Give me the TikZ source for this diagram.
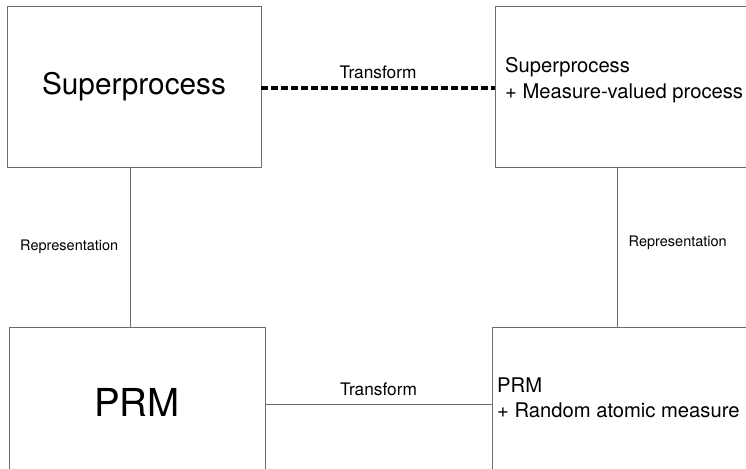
\documentclass[tikz,border=0pt]{standalone}
\usepackage{fontspec}
\setmainfont{TeX Gyre Heros}
\begin{document}
\begin{tikzpicture}[x=1pt,y=-1pt,
		box/.style={draw=gray!85!black,line width=0.8pt,inner sep=0pt,minimum height=161pt},
		link/.style={draw=gray!85!black,line width=0.8pt},
		twist/.style={draw=black,line width=3.4pt,dash pattern=on 7pt off 3pt}]
		\useasboundingbox (0,0) rectangle (746,468);
		\clip (0,0) rectangle (746,468);
		% boxes
		\node[box,minimum width=254pt] (sup) at (134,86.5) {\fontsize{29.8}{34}\selectfont Superprocess};
		\node[box,minimum width=270pt] (supmv) at (630,86.5) {};
		\node[box,minimum width=256pt,minimum height=150pt] (prm) at (137,402) {\fontsize{38.5}{44}\selectfont PRM};
		\node[box,minimum width=270pt,minimum height=150pt] (prmra) at (627,402) {};
		\node[anchor=west,align=left,inner sep=0pt,font=\fontsize{20.2}{26}\selectfont] (supmvtxt) at (505,80) {Superprocess\\+ Measure-valued process};
		\node[anchor=west,align=left,inner sep=0pt,font=\fontsize{20.2}{25}\selectfont] (prmratxt) at (497,398) {PRM\\+ Random atomic measure};
		% connectors
		\draw[twist] ([yshift=-1.5pt]sup.east) -- ([yshift=-1.5pt]supmv.west) node[midway,above=4pt,font=\fontsize{17.3}{20}\selectfont]{Transform};
		\draw[link] ([yshift=-2pt]prm.east) -- ([yshift=-2pt]prmra.west) node[midway,above=5pt,font=\fontsize{17.3}{20}\selectfont]{Transform};
		\draw[link] ([xshift=-4pt]sup.south) -- ([xshift=-4pt]sup.south |- prm.north) node[midway,left=8pt,font=\fontsize{14.5}{17}\selectfont]{Representation};
		\draw[link] ([xshift=-13pt]supmv.south) -- ([xshift=-13pt]supmv.south |- prmra.north) node[midway,right=8pt,yshift=4pt,font=\fontsize{14.5}{17}\selectfont]{Representation};
\end{tikzpicture}
\end{document}
